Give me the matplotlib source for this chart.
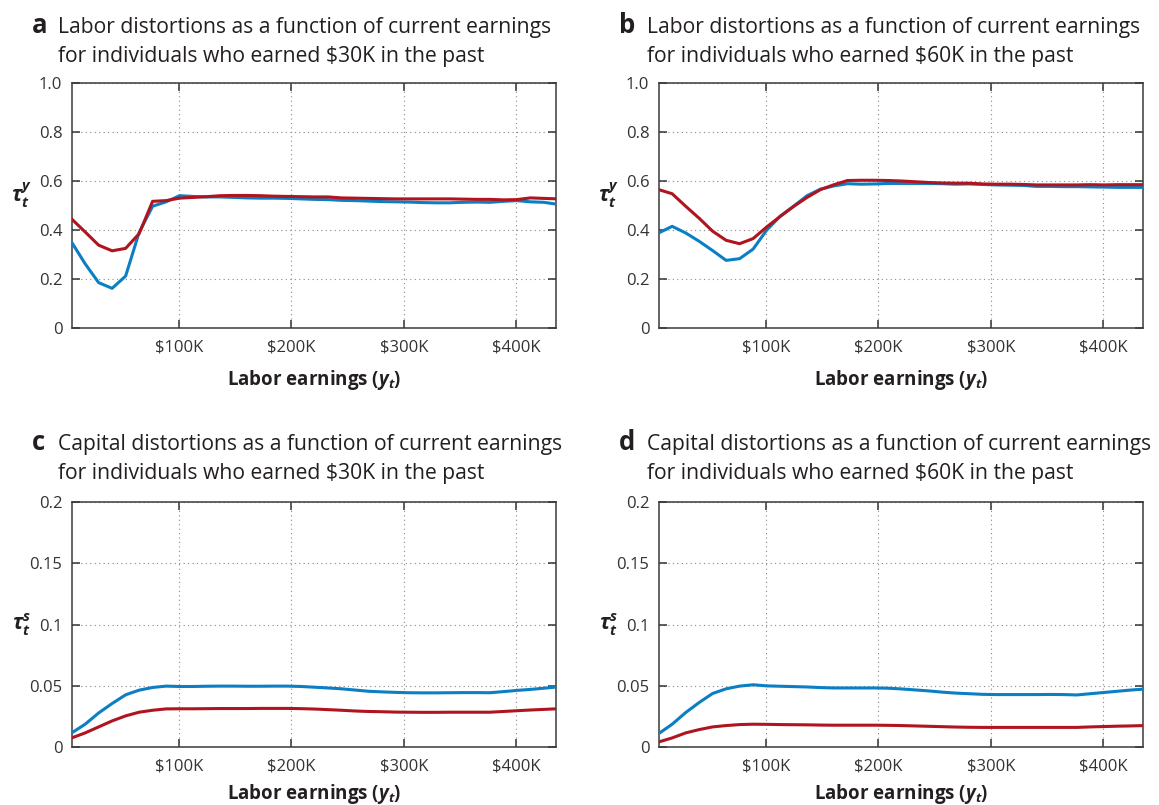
import matplotlib
matplotlib.use("Agg")
import matplotlib.pyplot as plt
from matplotlib.ticker import FixedLocator

plt.rcParams['font.family'] = ['Open Sans', 'DejaVu Sans']
plt.rcParams['mathtext.fontset'] = 'custom'
plt.rcParams['mathtext.rm'] = 'Open Sans'
plt.rcParams['mathtext.it'] = 'Open Sans:italic'
plt.rcParams['mathtext.bf'] = 'Open Sans:bold'
plt.rcParams['mathtext.bfit'] = 'Open Sans:italic:bold'

# labor earnings grid, in $K
earnings = [4.5, 16.5, 28.5, 40.5, 52.5, 64.5, 76.5, 88.5, 100.5, 112.5, 124.5, 136.5,
            148.5, 160.5, 172.5, 184.5, 196.5, 208.5, 220.5, 232.5, 244.5, 256.5, 268.5,
            280.5, 292.5, 304.5, 316.5, 328.5, 340.5, 352.5, 364.5, 376.5, 388.5, 400.5,
            412.5, 424.5, 436.5]

# panel a: labor distortions, earned $30K in the past
labor30_blue = [0.350, 0.262, 0.185, 0.162, 0.212, 0.390, 0.497, 0.515, 0.540, 0.537, 0.535,
                0.535, 0.533, 0.531, 0.530, 0.530, 0.529, 0.527, 0.525, 0.524, 0.521, 0.520,
                0.518, 0.516, 0.515, 0.514, 0.512, 0.511, 0.511, 0.513, 0.514, 0.513, 0.517,
                0.520, 0.515, 0.513, 0.505]
labor30_red = [0.445, 0.392, 0.338, 0.315, 0.325, 0.385, 0.517, 0.520, 0.530, 0.533, 0.536,
               0.540, 0.541, 0.541, 0.540, 0.538, 0.537, 0.536, 0.535, 0.535, 0.531, 0.530,
               0.529, 0.528, 0.527, 0.527, 0.527, 0.527, 0.527, 0.526, 0.525, 0.525, 0.523,
               0.524, 0.531, 0.529, 0.527]

# panel b: labor distortions, earned $60K in the past
labor60_blue = [0.388, 0.415, 0.388, 0.354, 0.316, 0.276, 0.283, 0.322, 0.399, 0.456, 0.497,
                0.540, 0.567, 0.580, 0.589, 0.587, 0.588, 0.590, 0.590, 0.590, 0.590, 0.589,
                0.587, 0.588, 0.586, 0.584, 0.583, 0.582, 0.578, 0.578, 0.577, 0.577, 0.576,
                0.575, 0.574, 0.574, 0.574]
labor60_red = [0.565, 0.548, 0.497, 0.448, 0.395, 0.358, 0.344, 0.365, 0.412, 0.455, 0.496,
               0.533, 0.565, 0.585, 0.602, 0.603, 0.603, 0.602, 0.600, 0.597, 0.594, 0.592,
               0.591, 0.591, 0.588, 0.587, 0.587, 0.586, 0.584, 0.584, 0.584, 0.584, 0.585,
               0.584, 0.585, 0.585, 0.585]

# panel c: capital distortions, earned $30K in the past
capital30_blue = [0.0115, 0.0186, 0.0278, 0.0355, 0.0426, 0.0464, 0.0486, 0.0497, 0.0494,
                  0.0494, 0.0496, 0.0497, 0.0497, 0.0496, 0.0496, 0.0497, 0.0497, 0.0494,
                  0.0488, 0.0482, 0.0475, 0.0465, 0.0455, 0.0450, 0.0446, 0.0443, 0.0442,
                  0.0442, 0.0443, 0.0444, 0.0444, 0.0443, 0.0452, 0.0462, 0.0470, 0.0480,
                  0.0490]
capital30_red = [0.0074, 0.0115, 0.0164, 0.0213, 0.0254, 0.0284, 0.0300, 0.0311, 0.0312,
                 0.0312, 0.0313, 0.0314, 0.0314, 0.0314, 0.0315, 0.0315, 0.0315, 0.0313,
                 0.0310, 0.0305, 0.0300, 0.0294, 0.0290, 0.0288, 0.0285, 0.0284, 0.0283,
                 0.0283, 0.0284, 0.0284, 0.0284, 0.0284, 0.0290, 0.0296, 0.0302, 0.0307,
                 0.0312]

# panel d: capital distortions, earned $60K in the past
capital60_blue = [0.0109, 0.0186, 0.0281, 0.0363, 0.0437, 0.0475, 0.0497, 0.0508, 0.0499,
                  0.0496, 0.0493, 0.0490, 0.0485, 0.0482, 0.0482, 0.0482, 0.0482, 0.0480,
                  0.0474, 0.0466, 0.0458, 0.0448, 0.0440, 0.0435, 0.0430, 0.0428, 0.0428,
                  0.0428, 0.0428, 0.0429, 0.0428, 0.0425, 0.0435, 0.0445, 0.0455, 0.0465,
                  0.0473]
capital60_red = [0.0041, 0.0074, 0.0115, 0.0142, 0.0164, 0.0175, 0.0183, 0.0186, 0.0185,
                 0.0183, 0.0182, 0.0181, 0.0179, 0.0178, 0.0178, 0.0178, 0.0178, 0.0177,
                 0.0175, 0.0172, 0.0169, 0.0166, 0.0163, 0.0161, 0.0160, 0.0160, 0.0160,
                 0.0160, 0.0160, 0.0160, 0.0160, 0.0160, 0.0164, 0.0167, 0.0170, 0.0172,
                 0.0175]

x_ticks = [100, 200, 300, 400]
x_ticklabels = ['$100K', '$200K', '$300K', '$400K']
labor_ticks = [0, 0.2, 0.4, 0.6, 0.8, 1.0]
labor_ticklabels = ['0', '0.2', '0.4', '0.6', '0.8', '1.0']
capital_ticks = [0, 0.05, 0.1, 0.15, 0.2]
capital_ticklabels = ['0', '0.05', '0.1', '0.15', '0.2']

BLUE = '#0a7fc4'
RED = '#b0141e'
INK = '#231f20'

fig = plt.figure(figsize=(11.59, 8.05), dpi=100)

panels = [
    ('a', 'Labor distortions as a function of current earnings',
     'for individuals who earned $30K in the past',
     labor30_blue, labor30_red, labor_ticks, labor_ticklabels, 'y'),
    ('b', 'Labor distortions as a function of current earnings',
     'for individuals who earned $60K in the past',
     labor60_blue, labor60_red, labor_ticks, labor_ticklabels, 'y'),
    ('c', 'Capital distortions as a function of current earnings',
     'for individuals who earned $30K in the past',
     capital30_blue, capital30_red, capital_ticks, capital_ticklabels, 's'),
    ('d', 'Capital distortions as a function of current earnings',
     'for individuals who earned $60K in the past',
     capital60_blue, capital60_red, capital_ticks, capital_ticklabels, 's'),
]

W, H = 1159, 805
lefts = [72, 659]
tops = [83, 502]
aw, ah = 484, 245

for i, (letter, line1, line2, blue, red, yt, ytl, sup) in enumerate(panels):
    col, row = i % 2, i // 2
    l, t = lefts[col], tops[row]
    ax = fig.add_axes([l / W, 1 - (t + ah) / H, aw / W, ah / H])

    ax.plot(earnings, blue, color=BLUE, lw=2.2, solid_joinstyle='round', zorder=3)
    ax.plot(earnings, red, color=RED, lw=2.2, solid_joinstyle='round', zorder=4)

    ax.set_xlim(4.8, 435.3)
    ax.set_ylim(yt[0], yt[-1])
    ax.xaxis.set_major_locator(FixedLocator(x_ticks))
    ax.set_xticklabels(x_ticklabels)
    ax.yaxis.set_major_locator(FixedLocator(yt))
    ax.set_yticklabels(ytl)

    ax.grid(True, linestyle=(0, (1, 3)), color='#8a8a8a', lw=0.8)
    ax.tick_params(direction='in', length=6, width=1.1, top=True, right=True,
                   colors='#333333', labelsize=12, labelcolor='#333333')
    ax.tick_params(axis='x', pad=8)
    ax.tick_params(axis='y', pad=7)
    for s in ax.spines.values():
        s.set_color('#3a3a3a')
        s.set_linewidth(1.1)

    ax.set_xlabel(r'Labor earnings ($\mathbfit{y}_{\mathbfit{t}}$)', fontsize=13.5,
                  fontweight='bold', color=INK, labelpad=9 if row == 0 else 6)
    ylab = r'$\mathbfit{\tau}_{\mathbfit{t}}^{\mathbfit{%s}}$' % sup
    ax.text(-0.105, 0.54 if row == 0 else 0.5, ylab, transform=ax.transAxes,
            fontsize=15, color=INK, ha='center', va='center')

    lx = 32 if col == 0 else 619
    tx = 58 if col == 0 else 647
    base = 33 if row == 0 else 450
    fig.text(lx / W, 1 - base / H, letter, fontsize=18.5, fontweight='bold', color=INK,
             ha='left', va='baseline')
    fig.text(tx / W, 1 - base / H, line1, fontsize=15.2, color=INK,
             ha='left', va='baseline')
    fig.text(tx / W, 1 - (base + 29) / H, line2, fontsize=15.2, color=INK,
             ha='left', va='baseline')

fig.savefig('out.png', dpi=100)
